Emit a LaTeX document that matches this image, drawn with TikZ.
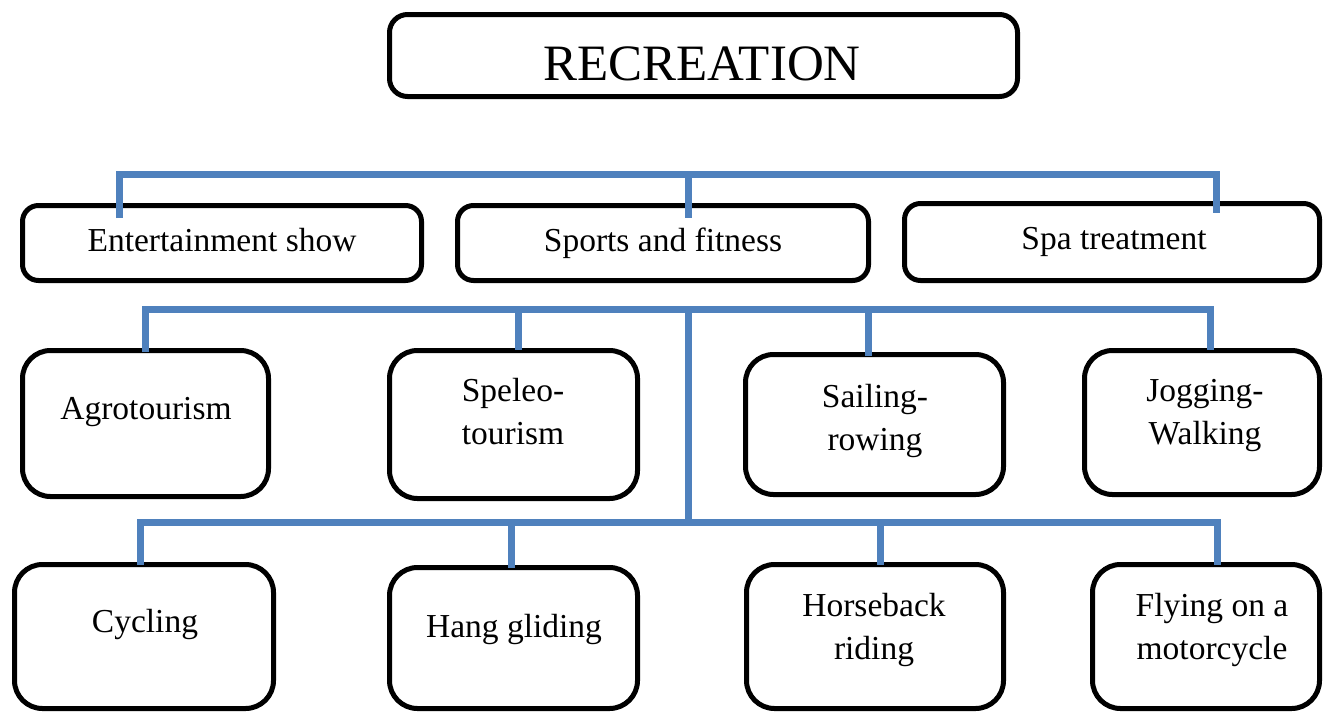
\documentclass[tikz,border=0pt]{standalone}
\usepackage{fontspec}
\setmainfont{Liberation Serif}
\usetikzlibrary{fit}
\definecolor{linkblue}{HTML}{4F81BD}
\tikzset{
  box/.style={draw=black, line width=5pt, inner sep=0pt, outer sep=0pt, rounded corners=#1},
  box/.default=16pt,
  lbl/.style={anchor=base, inner sep=0pt, align=center, font=\fontsize{33.5}{43}\selectfont},
  biglbl/.style={anchor=base, inner sep=0pt, font=\fontsize{51}{60}\selectfont},
  link/.style={draw=linkblue, line width=7pt, line join=miter, line cap=butt}
}
\begin{document}
\begin{tikzpicture}[x=1pt, y=-1pt]
\useasboundingbox (0,0) rectangle (1324,713);
% boxes
\node[box=18pt, fit={(389.5,14.5) (1017.5,96.5)}] (rec) {};
\node[box, fit={(22.5,205.5) (421.5,280.5)}] (ent) {};
\node[box, fit={(457.5,205.5) (868.5,280.5)}] (spo) {};
\node[box, fit={(904.5,203.5) (1319.5,280.5)}] (spa) {};
\node[box=28pt, fit={(22.5,350.5) (268.5,496.5)}] (agr) {};
\node[box=28pt, fit={(389.5,350.5) (637.5,498.5)}] (spe) {};
\node[box=28pt, fit={(745.5,354.5) (1003.5,494.5)}] (sai) {};
\node[box=28pt, fit={(1084.5,350.5) (1319.5,494.5)}] (jog) {};
\node[box=28pt, fit={(14.5,564.5) (273.5,708.5)}] (cyc) {};
\node[box=28pt, fit={(389.5,567.5) (637.5,708.5)}] (han) {};
\node[box=28pt, fit={(746.5,564.5) (1003.5,708.5)}] (hor) {};
\node[box=28pt, fit={(1092.5,564.5) (1319.5,708.5)}] (fly) {};
% texts (base anchor of a multi-line node = last line's baseline)
\node[biglbl] (recT) at (702,80) {RECREATION};
\node[lbl] (entT) at (222,251) {Entertainment show};
\node[lbl] (spoT) at (663,251) {Sports and fitness};
\node[lbl] (spaT) at (1114,249) {Spa treatment};
\node[lbl] (agrT) at (146,419) {Agrotourism};
\node[lbl] (speT) at (513,444) {Speleo-\\tourism};
\node[lbl] (saiT) at (875,450) {Sailing-\\rowing};
\node[lbl] (jogT) at (1205,444) {Jogging-\\Walking};
\node[lbl] (cycT) at (145,632) {Cycling};
\node[lbl] (hanT) at (514,637) {Hang gliding};
\node[lbl] (horT) at (874,659) {Horseback\\riding};
\node[lbl] (flyT) at (1212,659) {Flying on a\\motorcycle};
% connector junctions
\coordinate (e1) at (119,218);
\coordinate (e2) at (688,218);
\coordinate (e3) at (1216,213);
\coordinate (h1) at (119,174);
\coordinate (h2) at (688,174);
\coordinate (h3) at (1216,174);
\coordinate (m0) at (688,309);
\coordinate (m1) at (145,309);
\coordinate (m2) at (518,309);
\coordinate (m3) at (868,309);
\coordinate (m4) at (1210,309);
\coordinate (a1) at (145,352);
\coordinate (a2) at (518,350);
\coordinate (a3) at (868,356);
\coordinate (a4) at (1210,350);
\coordinate (b0) at (688,522);
\coordinate (b1) at (140,522);
\coordinate (b2) at (511,522);
\coordinate (b3) at (880,522);
\coordinate (b4) at (1217,522);
\coordinate (c1) at (140,565);
\coordinate (c2) at (511,568);
\coordinate (c3) at (880,565);
\coordinate (c4) at (1217,565);
% connectors
\draw[link] (e1) -- (h1) -- (h3) -- (e3);
\draw[link] (h2) -- (e2);
\draw[link] (a1) -- (m1) -- (m4) -- (a4);
\draw[link] (m2) -- (a2);
\draw[link] (m3) -- (a3);
\draw[link] (m0) -- (b0);
\draw[link] (c1) -- (b1) -- (b4) -- (c4);
\draw[link] (b2) -- (c2);
\draw[link] (b3) -- (c3);
\end{tikzpicture}
\end{document}
